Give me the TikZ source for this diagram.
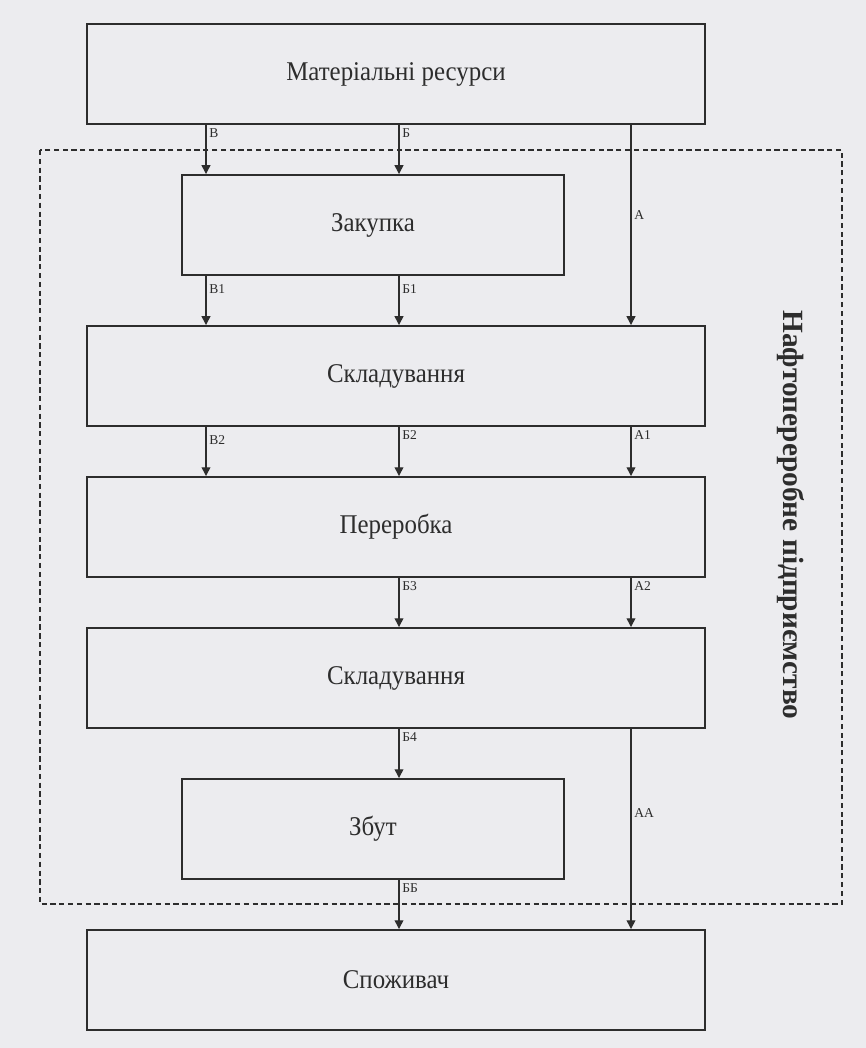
\documentclass[tikz,border=0pt]{standalone}
\usepackage{fontspec}
\setmainfont{Liberation Serif}
\newfontfamily\boxfont{Liberation Serif}[FakeStretch=0.92]
\usetikzlibrary{arrows.meta}
\definecolor{paper}{RGB}{236,236,239}
\definecolor{ink}{RGB}{45,45,45}

\begin{document}
\begin{tikzpicture}[x=0.2mm,y=-0.2mm]
    \fill[paper] (0,0) rectangle (866,1048);
    \tikzset{Box/.style = {draw=ink, line width=1.1pt, text=ink, inner sep=0pt,
                           font=\boxfont\fontsize{15.4}{18}\selectfont, minimum height=20mm},
             Wide/.style = {Box, minimum width=123.6mm},
             Narrow/.style = {Box, minimum width=76.4mm},
             Flow/.style = {draw=ink, line width=0.8pt, -{Triangle[length=5pt,width=5pt]}},
             Tag/.style = {anchor=north west, inner sep=1.5pt, text=ink,
                           font=\fontsize{7.7}{9}\selectfont}}
    \node[Wide]   (mat)   at (396,74)  {Матеріальні ресурси};
    \node[Narrow] (zak)   at (373,225) {Закупка};
    \node[Wide]   (skl)   at (396,376) {Складування};
    \node[Wide]   (per)   at (396,527) {Переробка};
    \node[Wide]   (sklad) at (396,678) {Складування};
    \node[Narrow] (zbut)  at (373,829) {Збут};
    \node[Wide]   (spoz)  at (396,980) {Споживач};
    \coordinate (V) at (206,0);
    \coordinate (B) at (399,0);
    \coordinate (A) at (631,0);
    \draw[Flow] (mat.south -| V) -- (zak.north -| V) node[Tag, pos=0] {В};
    \draw[Flow] (mat.south -| B) -- (zak.north -| B) node[Tag, pos=0] {Б};
    \draw[Flow] (mat.south -| A) -- (skl.north -| A) node[Tag, pos=.45, anchor=west] {А};
    \draw[Flow] (zak.south -| V) -- (skl.north -| V) node[Tag, pos=0, yshift=-3pt] {В1};
    \draw[Flow] (zak.south -| B) -- (skl.north -| B) node[Tag, pos=0, yshift=-3pt] {Б1};
    \draw[Flow] (skl.south -| V) -- (per.north -| V) node[Tag, pos=0, yshift=-3pt] {В2};
    \draw[Flow] (skl.south -| B) -- (per.north -| B) node[Tag, pos=0] {Б2};
    \draw[Flow] (skl.south -| A) -- (per.north -| A) node[Tag, pos=0] {А1};
    \draw[Flow] (per.south -| B) -- (sklad.north -| B) node[Tag, pos=0] {Б3};
    \draw[Flow] (per.south -| A) -- (sklad.north -| A) node[Tag, pos=0] {А2};
    \draw[Flow] (sklad.south -| B) -- (zbut.north -| B) node[Tag, pos=0] {Б4};
    \draw[Flow] (sklad.south -| A) -- (spoz.north -| A) node[Tag, pos=.42, anchor=west] {АА};
    \draw[Flow] (zbut.south -| B) -- (spoz.north -| B) node[Tag, pos=0] {ББ};
    \draw[ink, line width=0.9pt, dash pattern=on 3pt off 2pt] (40,150) rectangle (842,904);
    \node[rotate=-90, text=ink, font=\bfseries\fontsize{16.7}{20}\selectfont] (firm) at (791,515)
        {Нафтопереробне підприємство};
\end{tikzpicture}
\end{document}
